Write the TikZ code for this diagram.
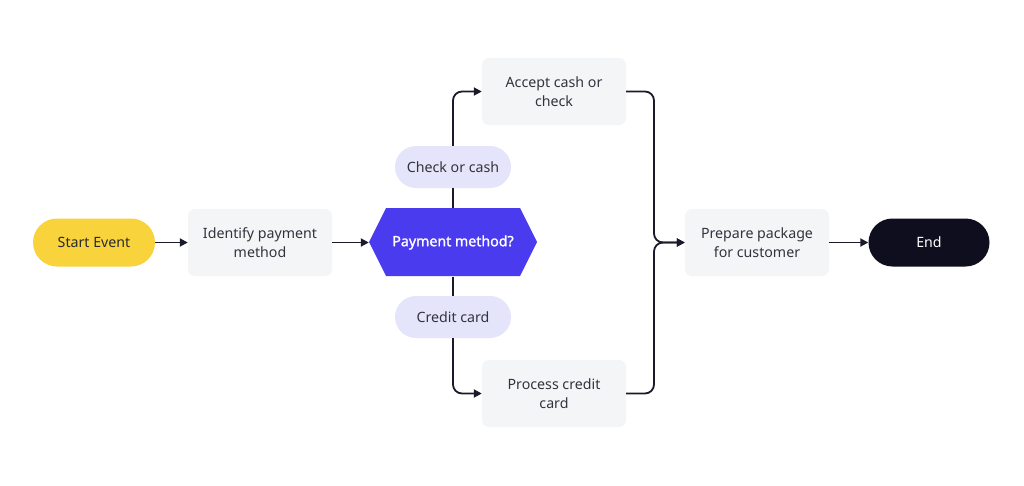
\documentclass[tikz,border=0pt]{standalone}
\usepackage{fontspec}
\setmainfont{Noto Sans}
\newfontfamily\semibold{Noto Sans}[FakeBold=1.4]
\usetikzlibrary{arrows.meta}
\definecolor{startyellow}{HTML}{F8D33C}
\definecolor{boxgray}{HTML}{F4F5F7}
\definecolor{lavender}{HTML}{E4E4FA}
\definecolor{hexblue}{HTML}{4B3BEE}
\definecolor{darkend}{HTML}{0F0E1F}
\definecolor{linecol}{HTML}{1A1A2A}
\definecolor{txtgray}{HTML}{33333D}
\tikzset{
  base/.style={font=\fontsize{14.2}{19}\selectfont, align=center, inner sep=0pt},
  pill/.style={base, rounded corners=24pt, minimum width=122pt, minimum height=48pt},
  task/.style={base, fill=boxgray, rounded corners=7pt, minimum width=144pt, minimum height=67pt, text=txtgray},
  label/.style={base, fill=lavender, rounded corners=21pt, minimum width=116pt, minimum height=42pt, text=txtgray},
  conn/.style={draw=linecol, line width=1.8pt},
  arr/.style={conn, -{Triangle[length=8pt,width=8pt]}}
}
\begin{document}
\begin{tikzpicture}[x=1pt,y=-1pt]
\useasboundingbox[fill=white] (0,0) rectangle (1024,485);
\fill[hexblue] (369,242) -- (386,208) -- (520,208) -- (537,242) -- (520,276) -- (386,276) -- cycle;
\node[pill, fill=startyellow, text=txtgray!80!black] (start) at (94,242.5) {Start Event};
\node[task] (ident) at (260,242.5) {Identify payment\\method};
\node[base, minimum width=168pt, minimum height=68pt, text=white, font=\fontsize{14.2}{19}\semibold] (pm) at (453,242.5) {Payment method?};
\node[label] (chk) at (453,167) {Check or cash};
\node[label] (cc) at (453,317) {Credit card};
\node[task] (acc) at (554,91.5) {Accept cash or\\check};
\node[task] (proc) at (554,393.5) {Process credit\\card};
\node[task] (prep) at (757,242.5) {Prepare package\\for customer};
\node[pill, fill=darkend, text=white, minimum width=121pt] (end) at (929,242.5) {End};
\coordinate (mx) at (654,242.5);
\draw[arr] (start) -- (ident);
\draw[arr] (ident) -- (pm);
\draw[conn] (pm.north) -- (chk.south);
\draw[conn] (pm.south) -- (cc.north);
\draw[arr, rounded corners=9pt] (chk.north) |- (acc.west);
\draw[arr, rounded corners=9pt] (cc.south) |- (proc.west);
\draw[arr, rounded corners=9pt] (acc.east) -| (mx) -- (prep.west);
\draw[arr, rounded corners=9pt] (proc.east) -| (mx) -- (prep.west);
\draw[arr] (prep) -- (end);
\end{tikzpicture}
\end{document}
